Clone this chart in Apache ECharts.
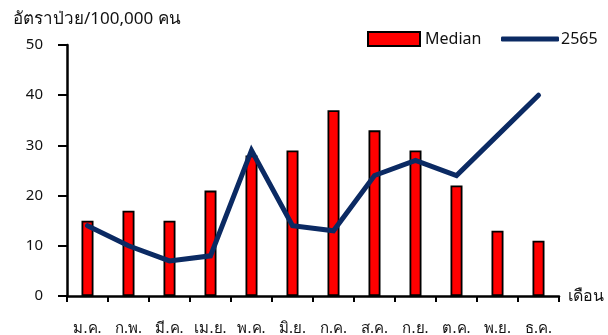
<!DOCTYPE html>
<html>
<head>
<meta charset="utf-8">
<script src="https://cdn.jsdelivr.net/npm/echarts@6/dist/echarts.min.js"></script>
<style>
  html, body { margin: 0; padding: 0; background: #fff; }
  #chart { width: 608px; height: 335px; }
</style>
</head>
<body>
<div id="chart"></div>
<script>
// Monthly labels (Thai abbreviations)
const months = ['ม.ค.', 'ก.พ.', 'มี.ค.', 'เม.ย.', 'พ.ค.', 'มิ.ย.', 'ก.ค.', 'ส.ค.', 'ก.ย.', 'ต.ค.', 'พ.ย.', 'ธ.ค.'];
// Median rate per 100,000 population
const medianValues = [15, 17, 15, 21, 28, 29, 37, 33, 29, 22, 13, 11];
// Rate in 2565
const year2565Values = [14, 10, 7, 8, 29, 14, 13, 24, 27, 24, 32, 40];
// Y-axis ticks
const yTicks = [0, 10, 20, 30, 40, 50];

const FONT = 'Tahoma, "Noto Sans", "DejaVu Sans", sans-serif';
const NAVY = '#0b2a63';
const chart = echarts.init(document.getElementById('chart'), null, { renderer: 'canvas' });

chart.setOption({
  animation: false,
  backgroundColor: '#fff',
  title: {
    text: 'อัตราป่วย/100,000 คน',
    left: 8,
    top: 6,
    textStyle: { fontFamily: FONT, fontSize: 17, fontWeight: 'normal', color: '#111' }
  },
  legend: [
    {
      data: [{ name: 'Median', icon: 'rect' }],
      left: 362,
      top: 26,
      itemWidth: 52,
      itemHeight: 14,
      textStyle: { fontFamily: FONT, fontSize: 16, color: '#111' }
    },
    {
      data: [{ name: '2565', icon: 'roundRect', itemStyle: { color: NAVY } }],
      left: 496,
      top: 26,
      itemWidth: 58,
      itemHeight: 5,
      textStyle: { fontFamily: FONT, fontSize: 16, color: '#111', padding: [0, 0, 0, -3] }
    }
  ],
  grid: { left: 67, right: 49, top: 45, bottom: 39, containLabel: false, outerBoundsMode: 'none' },
  xAxis: {
    type: 'category',
    data: months,
    name: 'เดือน',
    nameLocation: 'end',
    nameGap: 9,
    nameTextStyle: { fontFamily: FONT, fontSize: 16, color: '#111', verticalAlign: 'middle', padding: [0, 0, 4, 0] },
    axisLine: { lineStyle: { color: '#000', width: 2.5 } },
    axisTick: { show: true, alignWithLabel: false, length: 6, lineStyle: { color: '#000', width: 2 } },
    axisLabel: { fontFamily: FONT, fontSize: 15, color: '#111', margin: 25, interval: 0 },
    splitLine: { show: false }
  },
  yAxis: {
    type: 'value',
    min: yTicks[0],
    max: yTicks[yTicks.length - 1],
    interval: 10,
    axisLine: { show: true, lineStyle: { color: '#000', width: 2.5 } },
    axisTick: { show: true, inside: false, length: 9, lineStyle: { color: '#000', width: 2 } },
    axisLabel: { fontFamily: FONT, fontSize: 15, color: '#111', margin: 24 },
    splitLine: { show: false }
  },
  series: [
    {
      name: 'Median',
      type: 'bar',
      data: medianValues,
      barWidth: 12,
      itemStyle: { color: '#ff0000', borderColor: '#000', borderWidth: 1.8 }
    },
    {
      name: '2565',
      type: 'line',
      data: year2565Values,
      symbol: 'none',
      lineStyle: { color: NAVY, width: 5, cap: 'round', join: 'miter' },
      itemStyle: { color: NAVY }
    }
  ]
});
</script>
</body>
</html>
